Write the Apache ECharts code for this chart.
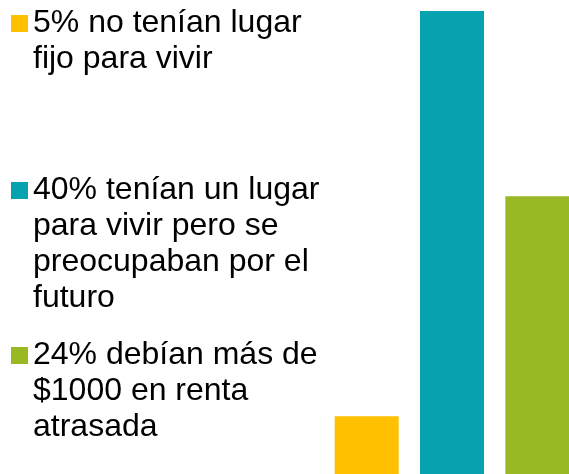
<!DOCTYPE html>
<html>
<head>
<meta charset="utf-8">
<script src="https://cdn.jsdelivr.net/npm/echarts@6/dist/echarts.min.js"></script>
<style>
  html, body { margin: 0; padding: 0; background: #fff; }
  #chart { width: 569px; height: 474px; }
</style>
</head>
<body>
<div id="chart"></div>
<script>
  // datos
  const categories = ['5%', '40%', '24%'];
  const values = [5, 40, 24];
  const legendLines = [
    ['5% no tenían lugar', 'fijo para vivir'],
    ['40% tenían un lugar', 'para vivir pero se', 'preocupaban por el', 'futuro'],
    ['24% debían más de', '$1000 en renta', 'atrasada']
  ];
  const colors = ['#FFC000', '#06A2AF', '#98B924'];

  const seriesNames = legendLines.map(l => l.join('\n'));
  const lineH = 36;
  const iconSize = 17;
  const iconTops = [15, 182, 347];

  const chart = echarts.init(document.getElementById('chart'));

  // una leyenda por serie, el texto se centra en el icono, asi que se
  // anteponen lineas vacias para que la primera linea quede junto al cuadro
  const legends = seriesNames.map((name, i) => {
    const n = legendLines[i].length;
    return {
      data: [name],
      left: 11,
      top: iconTops[i] + iconSize / 2 - (2 * n - 1) * lineH / 2,
      padding: 0,
      icon: 'rect',
      itemWidth: iconSize,
      itemHeight: iconSize,
      itemGap: 0,
      selectedMode: false,
      formatter: function (nm) {
        return '\n'.repeat(n - 1) + nm;
      },
      textStyle: {
        fontFamily: '"Liberation Sans", Arial, sans-serif',
        fontSize: 32,
        lineHeight: lineH,
        color: '#000'
      }
    };
  });

  chart.setOption({
    animation: false,
    legend: legends,
    grid: {
      left: 324,
      right: -11,
      top: 11,
      bottom: 0,
      outerBoundsMode: 'none'
    },
    xAxis: {
      type: 'category',
      data: categories,
      show: false
    },
    yAxis: {
      type: 'value',
      min: 0,
      max: 40,
      show: false,
      splitLine: { show: false }
    },
    series: seriesNames.map((name, i) => ({
      name: name,
      type: 'bar',
      stack: 'total',
      barWidth: 64,
      itemStyle: { color: colors[i] },
      data: values.map((v, j) => (j === i ? v : '-'))
    }))
  });
</script>
</body>
</html>
